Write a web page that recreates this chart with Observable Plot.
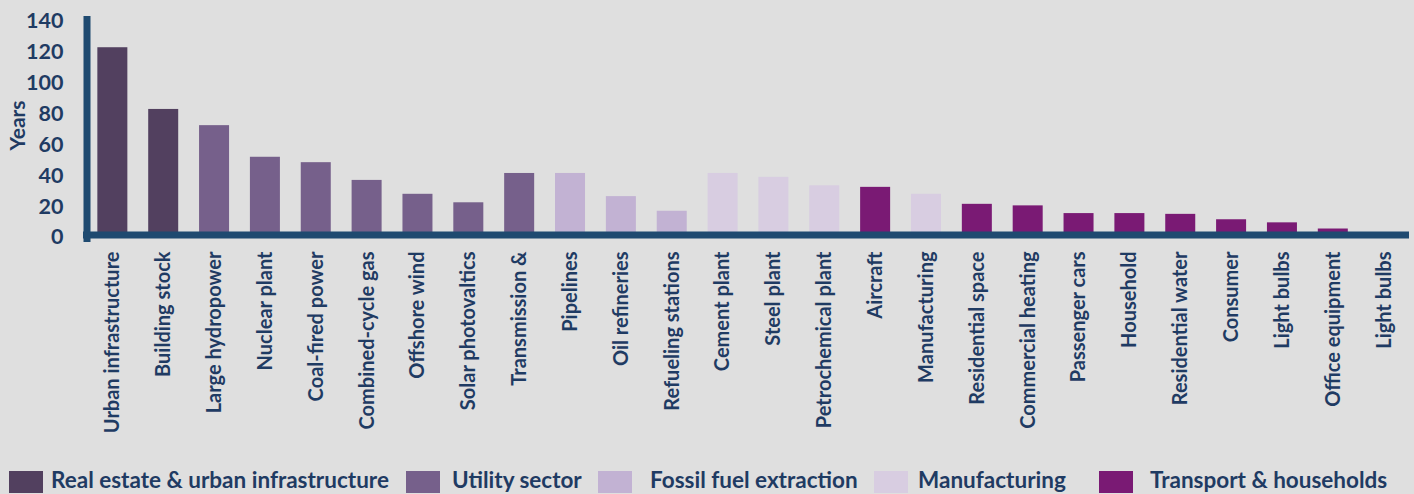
<!DOCTYPE html>
<html>
<head>
<meta charset="utf-8">
<script src="https://cdn.jsdelivr.net/npm/d3@7"></script>
<script src="https://cdn.jsdelivr.net/npm/@observablehq/plot@0.6"></script>
<style>
  html, body { margin: 0; padding: 0; background: #dfdfdf; overflow: hidden; }
  body { width: 1414px; height: 494px; position: relative; font-family: Lato, "Open Sans", sans-serif; }
  #chart { width: 1414px; height: 468px; overflow: hidden; }
  #chart svg { max-width: none !important; }
  #legend { position: absolute; left: 0; top: 0; width: 1414px; height: 494px; pointer-events: none; }
  .sw { position: absolute; top: 471px; width: 34px; height: 22px; }
  .lt { position: absolute; top: 466px; font-size: 22.5px; font-weight: bold; color: #1f3b63; white-space: nowrap; line-height: 28px; }
</style>
</head>
<body>
<div id="chart"></div>
<div id="legend"></div>
<script>
// ---- data ----
const categories = [
  "Urban infrastructure", "Building stock", "Large hydropower", "Nuclear plant",
  "Coal-fired power", "Combined-cycle gas", "Offshore wind", "Solar photovaltics",
  "Transmission &", "Pipelines", "Oil refineries", "Refueling stations",
  "Cement plant", "Steel plant", "Petrochemical plant", "Aircraft",
  "Manufacturing", "Residential space", "Commercial heating", "Passenger cars",
  "Household", "Residential water", "Consumer", "Light bulbs",
  "Office equipment", "Light bulbs"
];
const years = [
  123, 83, 72.5, 52,
  48.5, 37, 28, 22.5,
  41.5, 41.5, 26.5, 17,
  41.5, 39, 33.5, 32.5,
  28, 21.5, 20.5, 15.5,
  15.5, 15, 11.5, 9.5,
  5.5, 0
];
const sectors = [
  "Real estate & urban infrastructure", "Real estate & urban infrastructure",
  "Utility sector", "Utility sector", "Utility sector", "Utility sector",
  "Utility sector", "Utility sector", "Utility sector",
  "Fossil fuel extraction", "Fossil fuel extraction", "Fossil fuel extraction",
  "Manufacturing", "Manufacturing", "Manufacturing",
  "Transport & households",
  "Manufacturing",
  "Transport & households", "Transport & households", "Transport & households",
  "Transport & households", "Transport & households", "Transport & households",
  "Transport & households", "Transport & households", "Transport & households"
];
const sectorNames = ["Real estate & urban infrastructure", "Utility sector", "Fossil fuel extraction", "Manufacturing", "Transport & households"];
const sectorColors = ["#52405f", "#76608b", "#c2b2d3", "#d8cde1", "#7a1a74"];
const yTicks = [0, 20, 40, 60, 80, 100, 120, 140];

const rows = categories.map((c, i) => ({i, name: c, value: years[i], sector: sectors[i]}));

const navy = "#1f4a70";
const textColor = "#1f3b63";

const chart = Plot.plot({
  width: 1420,
  height: 468,
  marginLeft: 76.5,
  marginRight: 0.5,
  marginTop: 21,
  marginBottom: 231,
  style: {background: "#dfdfdf", fontFamily: "Lato, 'Open Sans', sans-serif", fontWeight: "bold", fontSize: "20px", color: textColor, overflow: "visible", maxWidth: "none"},
  x: {domain: d3.range(categories.length), padding: 0.41, round: false, label: null},
  y: {domain: [0, 140], label: null},
  color: {domain: sectorNames, range: sectorColors},
  marks: [
    Plot.barY(rows, {x: "i", y: "value", fill: "sector"}),
    Plot.ruleY([0], {stroke: navy, strokeWidth: 7, dy: -2.5, insetLeft: 6.5, insetRight: 10.5}),
    Plot.frame({anchor: "left", stroke: navy, strokeWidth: 7, dx: 10, insetTop: -2, insetBottom: -1}),
    Plot.axisY({ticks: yTicks, tickSize: 0, tickPadding: 13.5, label: null, fill: textColor, fontSize: 21.5}),
    Plot.axisX({tickRotate: -90, tickSize: 0, tickPadding: 14, label: null, tickFormat: i => categories[i], fill: textColor, fontSize: 20}),
    Plot.text(["Years"], {frameAnchor: "left", textAnchor: "middle", dx: -58.5, dy: -4, rotate: -90, fill: textColor, fontSize: 21, fontWeight: "bold"})
  ]
});
document.getElementById("chart").appendChild(chart);

// ---- legend ----
const swatchX = [9, 406, 598, 874, 1099];
const textX = [51, 452, 650, 918, 1150];
const legend = document.getElementById("legend");
sectorNames.forEach((name, k) => {
  const sw = document.createElement("div");
  sw.className = "sw";
  sw.style.left = swatchX[k] + "px";
  sw.style.background = sectorColors[k];
  legend.appendChild(sw);
  const t = document.createElement("div");
  t.className = "lt";
  t.style.left = textX[k] + "px";
  t.textContent = name;
  legend.appendChild(t);
});
</script>
</body>
</html>
